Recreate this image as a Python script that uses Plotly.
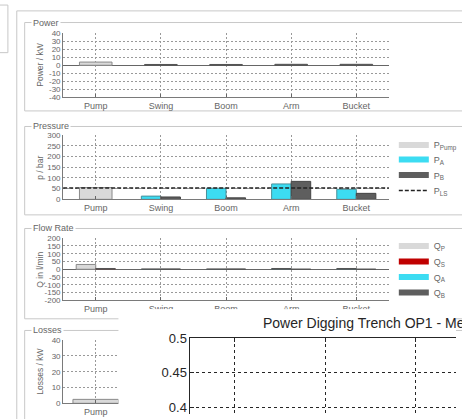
import plotly.graph_objects as go

W, H = 462, 419

# ---------------- data ----------------
categories = ["Pump", "Swing", "Boom", "Arm", "Bucket"]
losses_categories = ["Pump"]

power_pump = [4, None, None, None, None]
power_consumers = [None, 1, 1, 1.2, 1.2]
power_ticks = [40, 30, 20, 10, 0, -10, -20, -30, -40]

pressure_pump = [55, None, None, None, None]
pressure_a = [None, 15, 52, 72, 47]
pressure_b = [None, 11, 7, 84, 28]
pressure_ls = 53
pressure_ticks = [300, 250, 200, 150, 100, 50, 0]

flow_p = [31, None, None, None, None]
flow_s = [5, None, None, None, None]
flow_a = [None, 1.5, 1.5, 5, 5]
flow_b = [None, 2, 2, 0.5, 0.5]
flow_ticks = [200, 150, 100, 50, 0, -50, -100, -150, -200]

losses_pump = [2.5]
losses_ticks = [40, 30, 20, 10, 0]

overlay_title = "Power Digging Trench OP1 - Measurement"
overlay_yticks = [0.4, 0.45, 0.5]
overlay_xticks = [0, 1, 2]

# ---------------- styling ----------------
LIGHT = "#d9d9d9"
CYAN = "#3cdcf2"
DARK = "#5e5e5e"
RED = "#c00000"
TXT = "#666666"
FONT = "Liberation Sans"
GRID = "#999999"
GRIDDASH = "2px,2px"


def fx(px):
    return px / W


def fy(py):
    return 1 - py / H


fig = go.Figure()


def bar(x, y, ax, color, width, offset, edge="#555555"):
    fig.add_trace(go.Bar(
        x=x, y=y, xaxis="x" + ax, yaxis="y" + ax,
        width=width, offset=offset,
        marker=dict(color=color, line=dict(color=edge, width=1)),
        showlegend=False, hoverinfo="skip"))


# Power (axes 1 -> 'x','y')
bar(categories, power_pump, "", LIGHT, 0.5, -0.25, "#8a8a8a")
bar(categories, power_consumers, "", DARK, 0.5, -0.25, "#555555")

# Pressure (axes 2)
bar(categories, pressure_pump, "2", LIGHT, 0.5, -0.25, "#8a8a8a")
bar(categories, pressure_a, "2", CYAN, 0.3, -0.3, "#4a8f99")
bar(categories, pressure_b, "2", DARK, 0.3, 0.0, "#444444")

# Flow (axes 3)
bar(categories, flow_p, "3", LIGHT, 0.3, -0.3, "#8a8a8a")
bar(categories, flow_s, "3", RED, 0.3, 0.0, "#555555")
bar(categories, flow_a, "3", CYAN, 0.3, -0.3, "#555555")
bar(categories, flow_b, "3", DARK, 0.3, 0.0, "#555555")

# Losses (axes 4)
bar(losses_categories, losses_pump, "4", LIGHT, 0.7, -0.35, "#8a8a8a")

# legend-only entries
legend_specs = [
    ("P<sub>Pump</sub>", LIGHT, "solid", 6, "legend", "2"),
    ("P<sub>A</sub>", CYAN, "solid", 6, "legend2", "2"),
    ("P<sub>B</sub>", DARK, "solid", 6, "legend3", "2"),
    ("P<sub>LS</sub>", "#222222", "4px,2px", 1.5, "legend4", "2"),
    ("Q<sub>P</sub>", LIGHT, "solid", 6, "legend5", "3"),
    ("Q<sub>S</sub>", RED, "solid", 6, "legend6", "3"),
    ("Q<sub>A</sub>", CYAN, "solid", 6, "legend7", "3"),
    ("Q<sub>B</sub>", DARK, "solid", 6, "legend8", "3"),
]
for name, col, dash, lw, lg, ax in legend_specs:
    fig.add_trace(go.Scatter(
        x=[None], y=[None], mode="lines", name=name,
        line=dict(color=col, width=lw, dash=dash),
        legend=lg, xaxis="x" + ax, yaxis="y" + ax, hoverinfo="skip"))

# cover (axes 5) and overlay (axes 6)
fig.add_trace(go.Scatter(x=[None], y=[None], xaxis="x5", yaxis="y5",
                         showlegend=False, hoverinfo="skip"))
fig.add_trace(go.Scatter(x=[None], y=[None], xaxis="x6", yaxis="y6",
                         showlegend=False, hoverinfo="skip"))

# ---------------- axes ----------------
tickfont = dict(family=FONT, size=8, color=TXT)


def panel_x(px0, px1, anchor, rng):
    return dict(domain=[fx(px0), fx(px1)], anchor=anchor, type="category",
                categoryorder="array", categoryarray=categories,
                range=rng, showline=True, linecolor="#7a7a7a", linewidth=1,
                showgrid=True, gridcolor=GRID, griddash=GRIDDASH,
                gridwidth=1, ticks="inside", ticklen=3, tickcolor="#666",
                tickfont=dict(family=FONT, size=9, color=TXT),
                zeroline=False, fixedrange=True)


def panel_y(py_top, py_bot, anchor, rng, ticks, zl):
    return dict(domain=[fy(py_bot), fy(py_top)], anchor=anchor, range=rng,
                tickvals=ticks, ticktext=[str(t) for t in ticks],
                showline=True, linecolor="#7a7a7a", linewidth=1,
                showgrid=True, gridcolor=GRID, griddash=GRIDDASH,
                gridwidth=1, zeroline=zl, zerolinecolor="#666666",
                zerolinewidth=1, tickfont=tickfont, ticks="",
                fixedrange=True)


layout = dict(
    width=W, height=H, margin=dict(l=0, r=0, t=0, b=0),
    paper_bgcolor="white", plot_bgcolor="white",
    barmode="overlay", font=dict(family=FONT, color=TXT),
    xaxis=panel_x(64, 394, "y", [-0.5, 4.5]),
    yaxis=panel_y(27, 93, "x", [-40, 40], power_ticks, True),
    xaxis2=panel_x(64, 394, "y2", [-0.5, 4.5]),
    yaxis2=panel_y(132, 198, "x2", [0, 300], pressure_ticks, False),
    xaxis3=panel_x(64, 394, "y3", [-0.5, 4.5]),
    yaxis3=panel_y(238, 302, "x3", [-200, 200], flow_ticks, True),
    xaxis4=panel_x(64, 124, "y4", [-0.5, (124 - 97) / 66]),
    yaxis4=panel_y(343, 408, "x4", [0, 40], losses_ticks, False),
    xaxis5=dict(domain=[fx(120), 1], anchor="y5", visible=False, range=[0, 1]),
    yaxis5=dict(domain=[0, fy(311)], anchor="x5", visible=False, range=[0, 1]),
    xaxis6=dict(domain=[fx(193), 1], anchor="y6", side="top",
                range=[-45 / 91.5, (462 - 238) / 91.5],
                tickvals=overlay_xticks, showticklabels=False,
                showline=True, linecolor="#262626", linewidth=1,
                ticks="inside", ticklen=4, tickcolor="#262626",
                showgrid=True, gridcolor="#262626", griddash="3px,3px",
                gridwidth=1, zeroline=False, fixedrange=True),
    yaxis6=dict(domain=[0, fy(341)], anchor="x6",
                range=[0.5 - 78 / 710, 0.5],
                tickvals=overlay_yticks,
                ticktext=[("%g" % v) for v in overlay_yticks],
                showline=True, linecolor="#262626", linewidth=1,
                ticks="inside", ticklen=4, tickcolor="#262626",
                tickfont=dict(family=FONT, size=13, color="#262626"),
                showgrid=True, gridcolor="#262626", griddash="3px,3px",
                gridwidth=1, zeroline=False, fixedrange=True),
)

# legends
leg_pos = [404, 142, 404, 157, 404, 173, 404, 189,
           404, 246, 404, 262, 404, 278, 404, 294]
for i in range(8):
    key = "legend" if i == 0 else "legend%d" % (i + 1)
    layout[key] = dict(x=fx(leg_pos[2 * i] - 5), y=fy(leg_pos[2 * i + 1]),
                       xanchor="left", yanchor="middle",
                       bgcolor="rgba(0,0,0,0)", borderwidth=0,
                       font=dict(family=FONT, size=9, color=TXT),
                       itemwidth=30)

fig.update_layout(**layout)

# PLS dashed line through the pressure axes
fig.add_shape(type="line", xref="x2 domain", x0=0, x1=1, yref="y2",
              y0=pressure_ls, y1=pressure_ls,
              line=dict(color="#222222", width=1.5, dash="4px,2px"),
              layer="above")

# GUI frames (decoration)
BOX = "#c8c8c8"
def pbox(x0, y0, x1, y1):
    fig.add_shape(type="rect", xref="paper", yref="paper",
                  x0=fx(x0), x1=fx(x1), y0=fy(y1), y1=fy(y0),
                  line=dict(color=BOX, width=1), layer="below")

pbox(-2, -2, 8, 47)
pbox(17, 4, 480, 440)
pbox(25, 16, 480, 107)
pbox(25, 123, 480, 214)
pbox(25, 228, 480, 321)
pbox(25, 333, 480, 440)

for txt, py in [("Power", 16), ("Pressure", 123), ("Flow Rate", 228),
                ("Losses", 333)]:
    fig.add_annotation(text=txt, xref="paper", yref="paper",
                       x=fx(31), y=fy(py), xanchor="left", yanchor="middle",
                       showarrow=False, bgcolor="white",
                       font=dict(family=FONT, size=9, color=TXT))

for txt, py in [("Power / kW", 60), ("p / bar", 165), ("Q in l/min", 270),
                ("Losses / kW", 375)]:
    fig.add_annotation(text=txt, xref="paper", yref="paper",
                       x=fx(41), y=fy(py), xanchor="center", yanchor="middle",
                       textangle=-90, showarrow=False,
                       font=dict(family=FONT, size=8.5, color=TXT))

fig.add_annotation(text=overlay_title, xref="paper", yref="paper",
                   x=fx(264), y=fy(325), xanchor="left", yanchor="middle",
                   showarrow=False,
                   font=dict(family=FONT, size=14, color="#262626"))

fig.write_html("out.html")
